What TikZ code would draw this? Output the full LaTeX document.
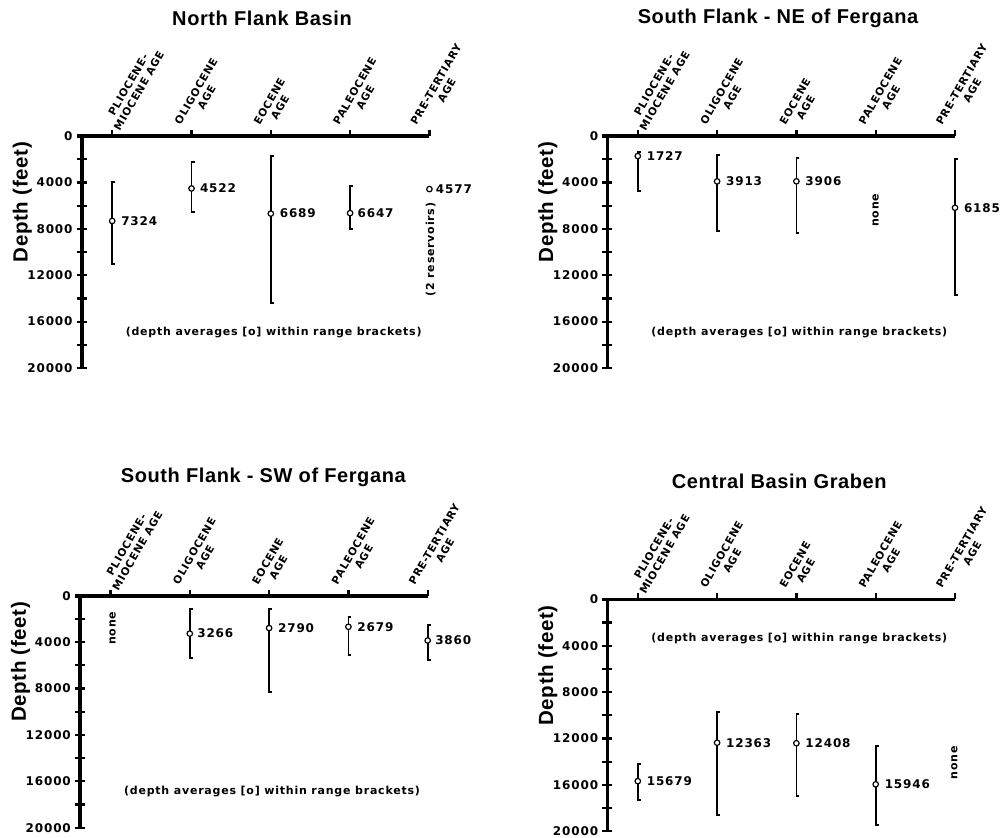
\documentclass[tikz,border=0pt]{standalone}
\usepackage{fontspec}
\setmainfont{Liberation Sans}
\newfontfamily\lettering{DejaVu Sans}[LetterSpace=7]
\newfontfamily\titlefont{Liberation Sans}[LetterSpace=3]
\usetikzlibrary{positioning}

\tikzset{
  axisline/.style={line width=3.6pt},
  tickmark/.style={line width=2.2pt},
  rangebar/.style={line width=1.7pt},
  meanmark/.style={circle, draw, line width=1.2pt, fill=white, inner sep=0pt, minimum size=5.5pt},
  paneltitle/.style={font=\titlefont\bfseries\fontsize{20}{24}\selectfont},
  ylab/.style={font=\titlefont\bfseries\fontsize{20.5}{24}\selectfont, rotate=90},
  numlab/.style={font=\lettering\bfseries\fontsize{12}{14}\selectfont, inner sep=0pt},
  notelab/.style={font=\lettering\bfseries\fontsize{11}{13}\selectfont, inner sep=0pt},
  agelab/.style={font=\lettering\bfseries\fontsize{10.6}{12.3}\selectfont, rotate=60,
    anchor=south west, align=center, inner sep=0pt},
}

\newcommand\depthframe[1]{%
  \draw[axisline] (-5,0) -- (347.7,0);
  \draw[axisline] (0,0) -- (0,20);
  \foreach \d in {2,4,...,20}
    \draw[tickmark] (-5,\d) -- (5,\d);
  \foreach \x in {30.5,109.8,189.1,268.4,347.7}
    \draw[tickmark] (\x,0) -- ++(0pt,6pt);
  \foreach \d/\t in {0/0,4/4000,8/8000,12/12000,16/16000,20/20000}
    \node[numlab, anchor=east] (#1-y\d) at (-9,\d) {\t};
  \node[ylab] (#1-ylab) at (-59.5,5.7) {Depth (feet)};
  \node[agelab] (#1-a0) at (38.5,-0.35) {PLIOCENE-\\MIOCENE AGE};
  \node[agelab] (#1-a1) at (109.8,-0.35) {OLIGOCENE\\AGE};
  \node[agelab] (#1-a2) at (189.1,-0.35) {EOCENE\\AGE};
  \node[agelab] (#1-a3) at (268.4,-0.35) {PALEOCENE\\AGE};
  \node[agelab] (#1-a4) at (345.7,-0.35) {PRE-TERTIARY\\AGE};
}

\begin{document}
\begin{tikzpicture}[x=1pt, y=-1pt]

      \useasboundingbox (0,0) rectangle (1005,838);

      \begin{scope}[shift={(81.7,136)}, y=-11.6pt]
        \node[paneltitle] (nf) at (180.3,-10.17) {North Flank Basin};
        \depthframe{nf}
        \draw[rangebar] (33.5,3.94) -- (30.5,3.94) -- (30.5,11.03) -- (33.5,11.03);
        \draw[rangebar] (112.8,2.22) -- (109.8,2.22) -- (109.8,6.58) -- (112.8,6.58);
        \draw[rangebar] (192.1,1.70) -- (189.1,1.70) -- (189.1,14.37) -- (192.1,14.37);
        \draw[rangebar] (271.4,4.31) -- (268.4,4.31) -- (268.4,8.04) -- (271.4,8.04);
        \node[meanmark] (nf-m0) at (30.5,7.324) {};
        \node[meanmark] (nf-m1) at (109.8,4.522) {};
        \node[meanmark] (nf-m2) at (189.1,6.689) {};
        \node[meanmark] (nf-m3) at (268.4,6.647) {};
        \node[meanmark] (nf-m4) at (347.7,4.577) {};
        \node[numlab, right=5.5pt of nf-m0] (nf-v0) {7324};
        \node[numlab, right=5pt of nf-m1] (nf-v1) {4522};
        \node[numlab, right=5.5pt of nf-m2] (nf-v2) {6689};
        \node[numlab, right=4pt of nf-m3] (nf-v3) {6647};
        \node[numlab, right=3pt of nf-m4] (nf-v4) {4577};
        \node[notelab, rotate=90] (nf-res) at (349,9.8) {(2 reservoirs)};
        \node[notelab] (nf-note) at (192,16.95) {(depth averages [o] within range brackets)};
      \end{scope}

      \begin{scope}[shift={(607.3,136)}, y=-11.6pt]
        \node[paneltitle] (ne) at (170.7,-10.17) {South Flank - NE of Fergana};
        \depthframe{ne}
        \draw[rangebar] (33.5,1.35) -- (30.5,1.35) -- (30.5,4.72) -- (33.5,4.72);
        \draw[rangebar] (112.8,1.64) -- (109.8,1.64) -- (109.8,8.16) -- (112.8,8.16);
        \draw[rangebar] (192.1,1.87) -- (189.1,1.87) -- (189.1,8.39) -- (192.1,8.39);
        \draw[rangebar] (350.7,2.00) -- (347.7,2.00) -- (347.7,13.70) -- (350.7,13.70);
        \node[meanmark] (ne-m0) at (30.5,1.727) {};
        \node[meanmark] (ne-m1) at (109.8,3.913) {};
        \node[meanmark] (ne-m2) at (189.1,3.906) {};
        \node[meanmark] (ne-m4) at (347.7,6.185) {};
        \node[numlab, right=5.5pt of ne-m0] (ne-v0) {1727};
        \node[numlab, right=5.5pt of ne-m1] (ne-v1) {3913};
        \node[numlab, right=5.5pt of ne-m2] (ne-v2) {3906};
        \node[numlab, right=5.5pt of ne-m4] (ne-v4) {6185};
        \node[notelab, rotate=90] (ne-none) at (268.4,6.4) {none};
        \node[notelab] (ne-note) at (192,16.95) {(depth averages [o] within range brackets)};
      \end{scope}

      \begin{scope}[shift={(80,595.7)}, y=-11.6pt]
        \node[paneltitle] (sw) at (183.3,-10.17) {South Flank - SW of Fergana};
        \depthframe{sw}
        \draw[rangebar] (112.8,1.17) -- (109.8,1.17) -- (109.8,5.40) -- (112.8,5.40);
        \draw[rangebar] (192.1,1.17) -- (189.1,1.17) -- (189.1,8.28) -- (192.1,8.28);
        \draw[rangebar] (271.4,1.81) -- (268.4,1.81) -- (268.4,5.11) -- (271.4,5.11);
        \draw[rangebar] (350.7,2.53) -- (347.7,2.53) -- (347.7,5.54) -- (350.7,5.54);
        \node[meanmark] (sw-m1) at (109.8,3.266) {};
        \node[meanmark] (sw-m2) at (189.1,2.790) {};
        \node[meanmark] (sw-m3) at (268.4,2.679) {};
        \node[meanmark] (sw-m4) at (347.7,3.860) {};
        \node[numlab, right=4pt of sw-m1] (sw-v1) {3266};
        \node[numlab, right=5.5pt of sw-m2] (sw-v2) {2790};
        \node[numlab, right=5.5pt of sw-m3] (sw-v3) {2679};
        \node[numlab, right=4pt of sw-m4] (sw-v4) {3860};
        \node[notelab, rotate=90] (sw-none) at (32.5,2.8) {none};
        \node[notelab] (sw-note) at (192,16.9) {(depth averages [o] within range brackets)};
      \end{scope}

      \begin{scope}[shift={(607.3,599.3)}, y=-11.6pt]
        \node[paneltitle] (cb) at (172,-10.17) {Central Basin Graben};
        \depthframe{cb}
        \draw[rangebar] (33.5,14.20) -- (30.5,14.20) -- (30.5,17.30) -- (33.5,17.30);
        \draw[rangebar] (112.8,9.69) -- (109.8,9.69) -- (109.8,18.60) -- (112.8,18.60);
        \draw[rangebar] (192.1,9.89) -- (189.1,9.89) -- (189.1,16.96) -- (192.1,16.96);
        \draw[rangebar] (271.4,12.62) -- (268.4,12.62) -- (268.4,19.46) -- (271.4,19.46);
        \node[meanmark] (cb-m0) at (30.5,15.679) {};
        \node[meanmark] (cb-m1) at (109.8,12.363) {};
        \node[meanmark] (cb-m2) at (189.1,12.408) {};
        \node[meanmark] (cb-m3) at (268.4,15.946) {};
        \node[numlab, right=5.5pt of cb-m0] (cb-v0) {15679};
        \node[numlab, right=5.5pt of cb-m1] (cb-v1) {12363};
        \node[numlab, right=5.5pt of cb-m2] (cb-v2) {12408};
        \node[numlab, right=5.5pt of cb-m3] (cb-v3) {15946};
        \node[notelab, rotate=90] (cb-none) at (347,14.1) {none};
        \node[notelab] (cb-note) at (192,3.42) {(depth averages [o] within range brackets)};
      \end{scope}

\end{tikzpicture}
\end{document}
